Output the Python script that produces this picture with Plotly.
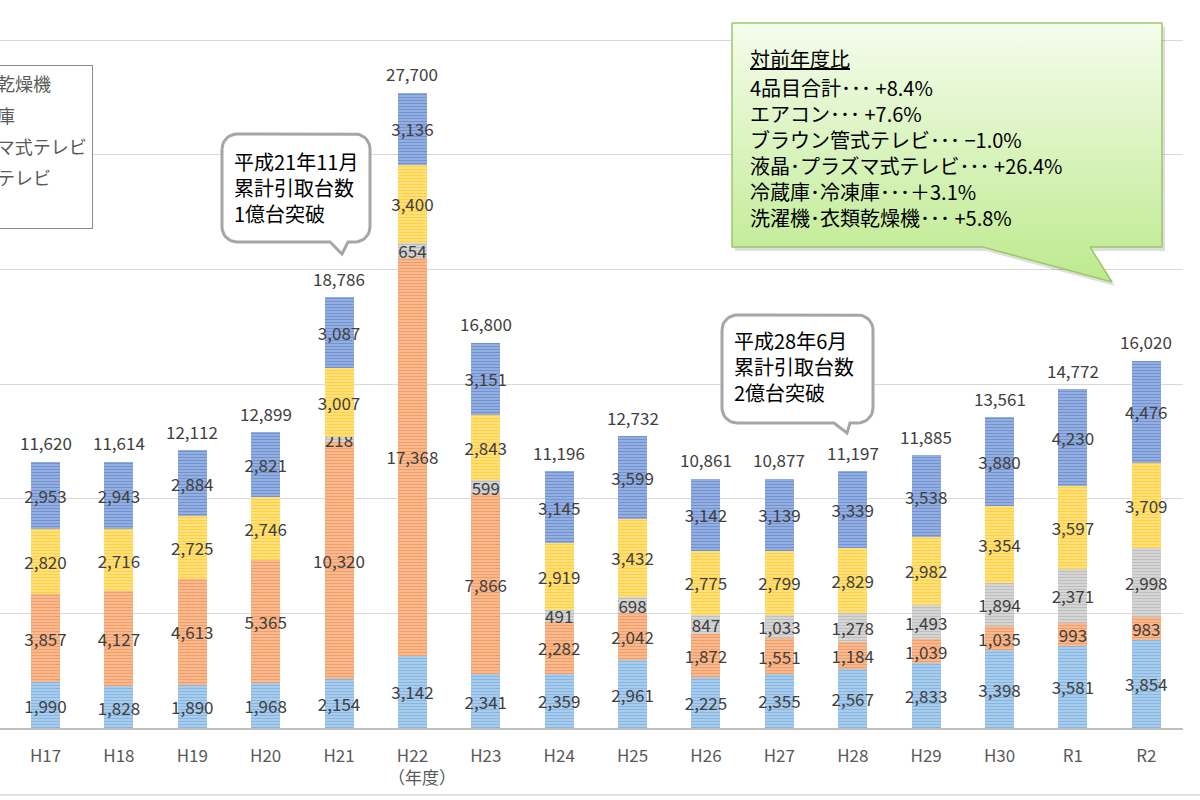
import numpy as np
import plotly.graph_objects as go

# ---------------- data ----------------
years = ["H17", "H18", "H19", "H20", "H21", "H22", "H23", "H24",
         "H25", "H26", "H27", "H28", "H29", "H30", "R1", "R2"]
aircon = [1990, 1828, 1890, 1968, 2154, 3142, 2341, 2359,
          2961, 2225, 2355, 2567, 2833, 3398, 3581, 3854]
crt_tv = [3857, 4127, 4613, 5365, 10320, 17368, 7866, 2282,
          2042, 1872, 1551, 1184, 1039, 1035, 993, 983]
flat_tv = [None, None, None, None, 218, 654, 599, 491,
           698, 847, 1033, 1278, 1493, 1894, 2371, 2998]
fridge = [2820, 2716, 2725, 2746, 3007, 3400, 2843, 2919,
          3432, 2775, 2799, 2829, 2982, 3354, 3597, 3709]
washer = [2953, 2943, 2884, 2821, 3087, 3136, 3151, 3145,
          3599, 3142, 3139, 3339, 3538, 3880, 4230, 4476]
totals = [11620, 11614, 12112, 12899, 18786, 27700, 16800, 11196,
          12732, 10861, 10877, 11197, 11885, 13561, 14772, 16020]
series_names = ["エアコン", "ブラウン管式テレビ", "液晶・プラズマ式テレビ",
                "冷蔵庫・冷凍庫", "洗濯機・衣類乾燥機"]
series_values = [aircon, crt_tv, flat_tv, fridge, washer]
base_colors = ["#5B9BD5", "#ED7D31", "#A5A5A5", "#FFC000", "#4472C4"]
tint_colors = ["#B0D0EE", "#F8BE98", "#D9D9D9", "#FFE285", "#9CB4E2"]

callout1_text = ["平成21年11月", "累計引取台数", "1億台突破"]
callout2_text = ["平成28年6月", "累計引取台数", "2億台突破"]
ratio_title = "対前年度比"
ratio_lines = ["4品目合計･･･ +8.4%",
               "エアコン･･･ +7.6%",
               "ブラウン管式テレビ･･･ −1.0%",
               "液晶･プラズマ式テレビ･･･ +26.4%",
               "冷蔵庫･冷凍庫･･･＋3.1%",
               "洗濯機･衣類乾燥機･･･ +5.8%"]
axis_unit = "（年度）"

FONT = "Noto Sans CJK JP"
W, H = 1200, 800
ML, MR, MT, MB = 0, 17, 0, 72
PW, PH = W - ML - MR, H - MT - MB


def paper_x(px):
    return (px - ML) / PW


def paper_y(py):
    return (PH + MT - py) / PH


fig = go.Figure()

n_series = len(series_names)
for i, (name, vals, bc, tc) in enumerate(zip(series_names, series_values, base_colors, tint_colors)):
    fig.add_trace(go.Bar(
        x=years, y=vals, name=name, legendgroup=name, legendrank=n_series - i,
        marker=dict(color=tc, line=dict(width=0),
                    pattern=dict(shape="-", fgcolor=bc, bgcolor=tc,
                                 size=3, solidity=0.45, fillmode="overlay")),
        text=[f"{v:,}" if v else "" for v in vals],
        textposition="inside", insidetextanchor="middle", textangle=0,
        constraintext="none", cliponaxis=False,
        insidetextfont=dict(size=17, color="#404040", family=FONT),
        hoverinfo="skip",
    ))

# totals above bars
for yr, tot in zip(years, totals):
    fig.add_annotation(x=yr, y=tot, xref="x", yref="y", text=f"{tot:,}",
                       showarrow=False, yshift=19, yanchor="middle",
                       font=dict(size=17, color="#404040", family=FONT))


# ---------------- callout decorations (pixel overlay axes) ----------------
def bubble(x0, y0, x1, y1, r, tail):
    pts = []

    def arc(cx, cy, a0, a1):
        if r == 0:
            return [(cx, cy)]
        t = np.radians(np.linspace(a0, a1, 10))
        return list(zip(cx + r * np.cos(t), cy + r * np.sin(t)))

    pts += arc(x0 + r, y0 + r, 180, 270)
    pts += arc(x1 - r, y0 + r, 270, 360)
    pts += arc(x1 - r, y1 - r, 0, 90)
    pts += tail
    pts += arc(x0 + r, y1 - r, 90, 180)
    pts.append(pts[0])
    xs, ys = zip(*pts)
    return list(xs), list(ys)


# green callout + shadow
gx, gy = bubble(732, 23, 1162, 247, 0, [(1090, 247), (1112, 282), (983, 247)])
fig.add_trace(go.Scatter(x=[v + 3 for v in gx], y=[v + 4 for v in gy], xaxis="x2", yaxis="y2",
                         mode="lines", fill="toself", fillcolor="rgba(0,0,0,0.13)",
                         line=dict(width=0), showlegend=False, hoverinfo="skip"))
fig.add_trace(go.Scatter(x=gx, y=gy, xaxis="x2", yaxis="y2", mode="lines", fill="toself",
                         fillgradient=dict(type="vertical", start=23, stop=282,
                                           colorscale=[[0, "#F5FCEC"], [1, "#BDEA8E"]]),
                         line=dict(color="#9CC866", width=1.5),
                         showlegend=False, hoverinfo="skip"))

for (bx0, by0, bx1, by1, tl) in [(222, 134, 370, 242, [(348, 242), (342, 254), (330, 242)]),
                                 (722, 315, 873, 423, [(850, 423), (847, 433), (834, 423)])]:
    xs, ys = bubble(bx0, by0, bx1, by1, 15, tl)
    fig.add_trace(go.Scatter(x=xs, y=ys, xaxis="x2", yaxis="y2", mode="lines", fill="toself",
                             fillcolor="white", line=dict(color="#A6A6A6", width=3),
                             showlegend=False, hoverinfo="skip"))

fig.add_annotation(x=232, y=187, xref="x2", yref="y2", text="<br>".join(callout1_text),
                   showarrow=False, xanchor="left", yanchor="middle", align="left",
                   font=dict(size=20, color="#000000", family=FONT))
fig.add_annotation(x=732, y=366, xref="x2", yref="y2", text="<br>".join(callout2_text),
                   showarrow=False, xanchor="left", yanchor="middle", align="left",
                   font=dict(size=20, color="#000000", family=FONT))
fig.add_annotation(x=748, y=58, xref="x2", yref="y2", text=ratio_title,
                   showarrow=False, xanchor="left", yanchor="middle", align="left",
                   font=dict(size=20, color="#000000", family=FONT, lineposition="under"))
fig.add_annotation(x=748, y=152, xref="x2", yref="y2", text="<br>".join(ratio_lines),
                   showarrow=False, xanchor="left", yanchor="middle", align="left",
                   font=dict(size=20, color="#000000", family=FONT))
fig.add_annotation(x=paper_x(422), y=paper_y(776), xref="paper", yref="paper", text=axis_unit,
                   showarrow=False, xanchor="center", yanchor="middle",
                   font=dict(size=17, color="#595959", family=FONT))

# chart border bottom line
fig.add_shape(type="line", xref="paper", yref="paper", x0=paper_x(0), x1=paper_x(W),
              y0=paper_y(795), y1=paper_y(795),
              line=dict(color="#D9D9D9", width=1.5))

fig.update_layout(
    width=W, height=H,
    margin=dict(l=ML, r=MR, t=MT, b=MB, autoexpand=False),
    barmode="stack", bargap=0.605,
    plot_bgcolor="white", paper_bgcolor="white",
    font=dict(family=FONT),
    xaxis=dict(type="category", range=[-0.62, 15.5], showline=True, linecolor="#BFBFBF",
               linewidth=2, showgrid=False, ticks="", ticklabelstandoff=12,
               tickfont=dict(size=17, color="#595959", family=FONT), fixedrange=True),
    yaxis=dict(range=[0, 30000 * PH / (PH - 40)], dtick=5000, showticklabels=False,
               gridcolor="#D9D9D9", gridwidth=1, zeroline=False, showline=False,
               fixedrange=True),
    xaxis2=dict(overlaying="x", anchor="y2", range=[0, PW], visible=False, fixedrange=True),
    yaxis2=dict(overlaying="y", anchor="x2", range=[PH, 0], visible=False, fixedrange=True),
    legend=dict(x=paper_x(-152), xanchor="left", y=paper_y(65), yanchor="top",
                bordercolor="#8C8C8C", borderwidth=1, bgcolor="white",
                font=dict(size=18, color="#595959", family=FONT),
                traceorder="grouped", tracegroupgap=5),
    showlegend=True,
)

fig.write_html("out.html", config={"displayModeBar": False},
               post_script="document.body.style.margin='0px';")
